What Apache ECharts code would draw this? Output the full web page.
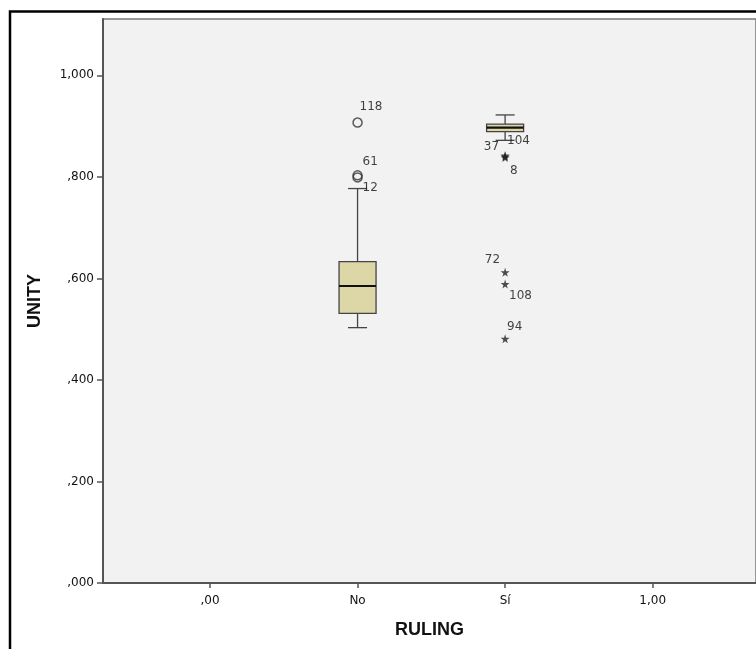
<!DOCTYPE html>
<html>
<head>
<meta charset="utf-8">
<script src="https://cdn.jsdelivr.net/npm/echarts@6/dist/echarts.min.js"></script>
<style>
  html, body { margin: 0; padding: 0; background: #fff; }
  #chart { width: 756px; height: 649px; }
</style>
</head>
<body>
<div id="chart"></div>
<script>
const xTickValues = [0, 1, 2, 3];
const xTickLabels = [',00', 'No', 'Sí', '1,00'];
const yTickValues = [0, 0.2, 0.4, 0.6, 0.8, 1.0];
const yTickLabels = [',000', ',200', ',400', ',600', ',800', '1,000'];

// [x, min, q1, median, q3, max]
const boxStats = [
  [1, 0.503, 0.531, 0.585, 0.633, 0.777],
  [2, 0.872, 0.889, 0.897, 0.904, 0.922]
];

// [x, value, case]
const outliers = [[1, 0.907, '118'], [1, 0.803, '61'], [1, 0.799, '12']];
const extremes = [
  [2, 0.842, '37'], [2, 0.840, '104'], [2, 0.838, '8'],
  [2, 0.612, '72'], [2, 0.589, '108'], [2, 0.481, '94']
];

// case label placement: [align, dx, dy]
const labelPlace = {
  '118': ['left', 2, -16], '61': ['left', 5, -13], '12': ['left', 5, 10],
  '37': ['right', -6, -9], '104': ['left', 2, -16], '8': ['left', 5, 13],
  '72': ['right', -5, -12], '108': ['left', 4, 12], '94': ['left', 2, -12]
};

const STAR = 'path://M50,0 L61,35 L98,35 L68,57 L79,91 L50,70 L21,91 L32,57 L2,35 L39,35 Z';
const FONT = 'DejaVu Sans';

function pointData(list) {
  return list.map(d => {
    const p = labelPlace[d[2]];
    return {
      value: [d[0], d[1]],
      name: d[2],
      label: { align: p[0], offset: [p[1], p[2]] }
    };
  });
}

const pointLabel = {
  show: true,
  position: 'inside',
  verticalAlign: 'middle',
  formatter: '{b}',
  fontFamily: FONT,
  fontSize: 12,
  color: '#111'
};

const chart = echarts.init(document.getElementById('chart'));

chart.setOption({
  animation: false,
  backgroundColor: '#fff',
  graphic: [{
    type: 'rect',
    shape: { x: 10, y: 11.5, width: 800, height: 700 },
    style: { fill: 'none', stroke: '#000', lineWidth: 2.5 },
    z: 100
  }],
  grid: {
    left: 103, top: 19, right: 0, bottom: 66,
    show: true,
    backgroundColor: '#f2f2f2',
    borderColor: '#777',
    borderWidth: 1.5
  },
  xAxis: {
    type: 'value',
    min: -0.7252,
    max: 3.7004,
    name: 'RULING',
    nameLocation: 'middle',
    nameGap: 38,
    nameTextStyle: { fontFamily: 'Liberation Sans', fontWeight: 'bold', fontSize: 18, color: '#111' },
    splitLine: { show: false },
    axisLine: { onZero: false, lineStyle: { color: '#555', width: 2 } },
    axisTick: { customValues: xTickValues, length: 5, lineStyle: { color: '#555', width: 1.5 } },
    axisLabel: {
      customValues: xTickValues,
      formatter: v => xTickLabels[xTickValues.indexOf(Math.round(v))],
      fontFamily: FONT, fontSize: 12, color: '#111', margin: 12
    }
  },
  yAxis: {
    type: 'value',
    min: 0,
    max: 1.111,
    name: 'UNITY',
    nameLocation: 'middle',
    nameGap: 59,
    nameTextStyle: { fontFamily: 'Liberation Sans', fontWeight: 'bold', fontSize: 18, color: '#111' },
    splitLine: { show: false },
    axisLine: { show: true, onZero: false, lineStyle: { color: '#555', width: 2 } },
    axisTick: { show: true, customValues: yTickValues, length: 6, lineStyle: { color: '#555', width: 1.5 } },
    axisLabel: {
      customValues: yTickValues,
      formatter: v => yTickLabels[yTickValues.findIndex(t => Math.abs(t - v) < 1e-6)],
      fontFamily: FONT, fontSize: 12, color: '#111', margin: 9
    }
  },
  series: [
    {
      type: 'custom',
      data: boxStats,
      encode: { x: 0, y: [1, 2, 3, 4, 5] },
      renderItem: (params, api) => {
        const x = api.value(0);
        const lo = api.coord([x, api.value(1)]);
        const q1 = api.coord([x, api.value(2)]);
        const med = api.coord([x, api.value(3)]);
        const q3 = api.coord([x, api.value(4)]);
        const hi = api.coord([x, api.value(5)]);
        const cx = lo[0];
        const half = 18.5;
        const cap = 9.5;
        const line = { stroke: '#444', lineWidth: 1.3 };
        return {
          type: 'group',
          children: [
            { type: 'line', shape: { x1: cx, y1: hi[1], x2: cx, y2: q3[1] }, style: line },
            { type: 'line', shape: { x1: cx, y1: q1[1], x2: cx, y2: lo[1] }, style: line },
            { type: 'line', shape: { x1: cx - cap, y1: hi[1], x2: cx + cap, y2: hi[1] }, style: line },
            { type: 'line', shape: { x1: cx - cap, y1: lo[1], x2: cx + cap, y2: lo[1] }, style: line },
            { type: 'rect', shape: { x: cx - half, y: q3[1], width: half * 2, height: q1[1] - q3[1] },
              style: { fill: '#ddd6a7', stroke: '#444', lineWidth: 1.3 } },
            { type: 'line', shape: { x1: cx - half, y1: med[1], x2: cx + half, y2: med[1] },
              style: { stroke: '#111', lineWidth: 2.2 } }
          ]
        };
      }
    },
    {
      type: 'scatter',
      data: pointData(outliers),
      symbol: 'circle',
      symbolSize: 9,
      itemStyle: { color: 'rgba(0,0,0,0)', borderColor: '#333', borderWidth: 1.5 },
      label: pointLabel
    },
    {
      type: 'scatter',
      data: pointData(extremes),
      symbol: STAR,
      symbolSize: 9,
      itemStyle: { color: '#222' },
      label: pointLabel
    }
  ]
});
</script>
</body>
</html>
